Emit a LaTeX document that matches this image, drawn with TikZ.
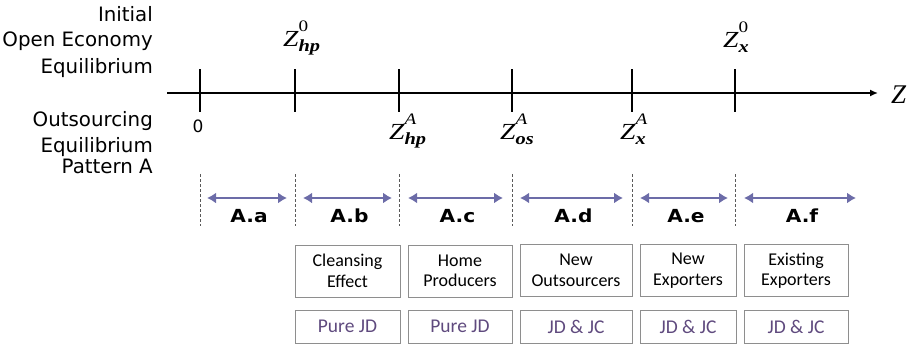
\documentclass[tikz,border=0pt]{standalone}
\usepackage{fontspec}
\setmainfont{DejaVu Sans}
\newfontfamily\tnr{Liberation Serif}
\newfontfamily\boxfont{Carlito}
\usetikzlibrary{arrows.meta}
\definecolor{arrowpurple}{HTML}{6C6CA8}
\definecolor{textpurple}{HTML}{5F4A7E}
\definecolor{boxgray}{HTML}{8E8E8E}
\newcommand{\zlab}[2]{\scalebox{1.2}[1]{\fontsize{23}{23}\selectfont\tnr\itshape Z\rlap{\raisebox{15pt}{\fontsize{16}{16}\selectfont #1}}\raisebox{-5pt}{\fontsize{17}{17}\selectfont\bfseries #2}}}
\tikzset{
  sidelab/.style={anchor=base east, inner sep=0pt, font=\fontsize{19.8}{22}\selectfont},
  zl/.style={anchor=base west, inner sep=0pt},
  axisline/.style={line width=1.5pt, -{Latex[length=8pt,width=7pt]}},
  tickline/.style={line width=1.5pt},
  dashline/.style={draw=black!65, line width=0.8pt, dash pattern=on 2.5pt off 2.5pt},
  spanarrow/.style={draw=arrowpurple, line width=2.4pt, {Latex[length=9pt,width=11pt]}-{Latex[length=9pt,width=11pt]}},
  spanlab/.style={anchor=base, inner sep=0pt, font=\fontsize{18}{18}\selectfont\bfseries},
  effbox/.style={draw=boxgray, line width=0.9pt, minimum height=52pt, align=center, inner sep=0pt, font=\fontsize{18}{20.5}\selectfont\boxfont},
  jobbox/.style={draw=boxgray, line width=0.9pt, minimum height=33pt, inner sep=0pt, text=textpurple, font=\fontsize{19.5}{20}\selectfont\boxfont},
}
\begin{document}
\begin{tikzpicture}[x=1pt,y=-1pt]
\useasboundingbox (0,0) rectangle (912,345);
% side labels
\node[sidelab] (l1) at (153,22) {Initial};
\node[sidelab] (l2) at (153,47) {Open Economy};
\node[sidelab] (l3) at (153,74) {Equilibrium};
\node[sidelab] (l4) at (153,126) {Outsourcing};
\node[sidelab] (l5) at (153,152) {Equilibrium};
\node[sidelab] (l6) at (153,173) {Pattern A};
% axis
\coordinate (axs) at (167,93);
\coordinate (axe) at (878,93);
\draw[axisline] (axs) -- (axe);
\node[anchor=base west, inner sep=0pt, font=\fontsize{27}{27}\selectfont\tnr\itshape] (zax) at (891,103) {Z};
% ticks
\foreach \n/\x in {t0/200,t1/295,t2/399,t3/512,t4/632,t5/735}{
  \coordinate (\n top) at (\x,69);
  \coordinate (\n bot) at (\x,112);
  \draw[tickline] (\n top) -- (\n bot);
  \coordinate (\n da) at (\x,174);
  \coordinate (\n db) at (\x,226);
  \draw[dashline] (\n da) -- (\n db);
}
% tick labels
\node[anchor=base, inner sep=0pt, font=\fontsize{17}{17}\selectfont] (zero) at (198,132) {0};
\node[zl] (zhp0) at (283,47) {\zlab{\upshape 0}{hp}};
\node[zl] (zx0) at (723,48) {\zlab{\upshape 0}{x}};
\node[zl] (zhpA) at (389,139) {\zlab{A}{hp}};
\node[zl] (zosA) at (500,139) {\zlab{A}{os}};
\node[zl] (zxA) at (620,139) {\zlab{A}{x}};
% span arrows
\foreach \n/\a/\b/\t in {sa/207/287/A.a, sb/303/392/A.b, sc/408/503/A.c, sd/520/623/A.d, se/640/728/A.e, sf/744/856/A.f}{
  \coordinate (\n l) at (\a,198);
  \coordinate (\n r) at (\b,198);
  \draw[spanarrow] (\n l) -- (\n r);
  \node[spanlab] (\n lab) at ({(\a+\b)/2+2},222) {\scalebox{1.12}[1]{\t}};
}
% effect boxes
\node[effbox, minimum width=105pt] (e1) at (347.5,271) {Cleansing\\Effect};
\node[effbox, minimum width=104pt] (e2) at (460,271) {Home\\Producers};
\node[effbox, minimum width=112pt] (e3) at (576,270.5) {New\\Outsourcers};
\node[effbox, minimum width=96pt] (e4) at (688,270.5) {New\\Exporters};
\node[effbox, minimum width=104pt] (e5) at (796,270.5) {Existing\\Exporters};
% job boxes
\node[jobbox, minimum width=105pt] (j1) at (347.5,326.5) {Pure JD};
\node[jobbox, minimum width=104pt] (j2) at (460,326.5) {Pure JD};
\node[jobbox, minimum width=112pt] (j3) at (576,326.5) {JD \& JC};
\node[jobbox, minimum width=96pt] (j4) at (688,326.5) {JD \& JC};
\node[jobbox, minimum width=104pt] (j5) at (796,326.5) {JD \& JC};
\end{tikzpicture}
\end{document}
